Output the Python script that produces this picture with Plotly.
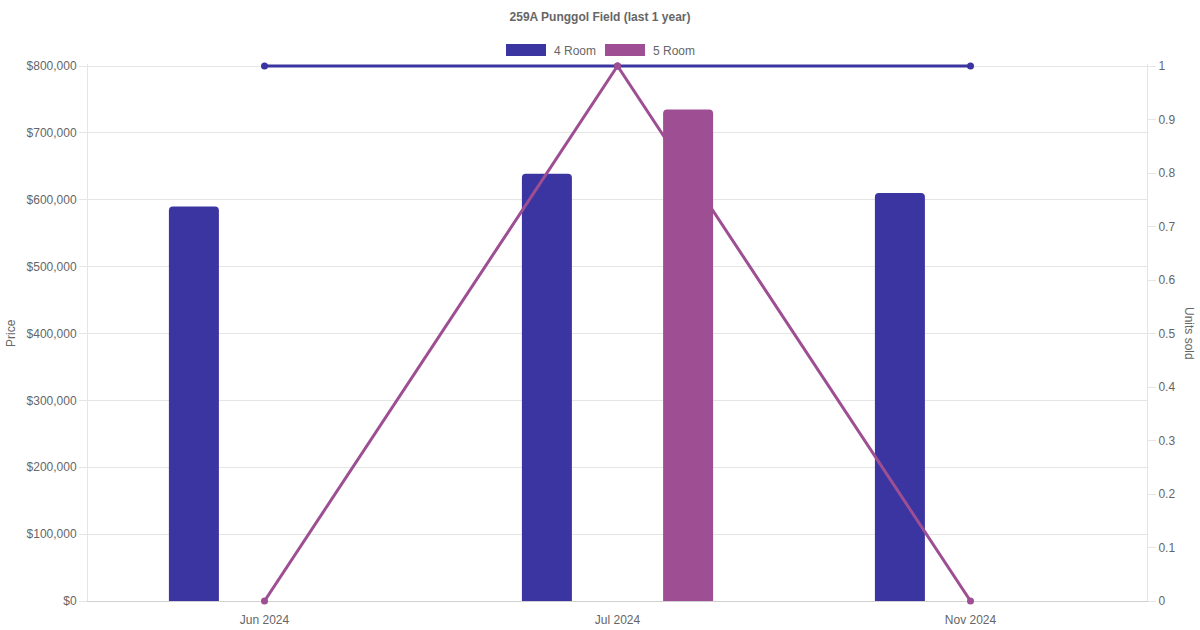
import plotly.graph_objects as go

months = ["Jun 2024", "Jul 2024", "Nov 2024"]
price_4room = [590000, 639000, 610000]
price_5room = [None, 735000, None]
units_4room = [1, 1, 1]
units_5room = [0, 1, 0]
series_names = ["4 Room", "5 Room"]
colors = ["#3a35a0", "#9e4f93"]
title_text = "259A Punggol Field (last 1 year)"

FONT = "'Liberation Sans', Arial, Helvetica, sans-serif"
GRAY = "#666666"
GRID = "#e5e5e5"

# layout geometry (pixels)
W, H = 1200, 630
EXTRA = 2  # small headroom so lines at the top value aren't clipped
L, R, T, B = 88, 53, 66 - EXTRA, 29
PW, PH = W - L - R, H - T - B
PH0 = PH - EXTRA
YMAX1 = 800000 * PH / PH0
YMAX2 = 1.0 * PH / PH0

def px_x(px):
    return (px - L) / PW

def px_y(py):
    return (H - B - py) / PH

xs = list(range(len(months)))
bar_w = 50 / (PW / len(months))
offsets = [-0.2 - bar_w / 2, 0.2 - bar_w / 2]

fig = go.Figure()
for name, vals, col, off in zip(series_names, [price_4room, price_5room], colors, offsets):
    fig.add_trace(go.Bar(
        x=xs, y=vals, name=name, width=bar_w, offset=off,
        marker=dict(color=col, line=dict(width=0)),
        yaxis="y", showlegend=False, hoverinfo="skip",
    ))
for name, vals, col in zip(series_names, [units_4room, units_5room], colors):
    fig.add_trace(go.Scatter(
        x=xs, y=vals, name=name, mode="lines+markers",
        line=dict(color=col, width=3), marker=dict(color=col, size=7),
        yaxis="y2", showlegend=False, cliponaxis=False,
    ))

# manual legend (chart.js style)
shapes = []
annotations = []
legend_items = [(506, 546, 552), (605, 645, 651)]
for (x0, x1, tx), name, col in zip(legend_items, series_names, colors):
    shapes.append(dict(type="rect", xref="paper", yref="paper",
                       x0=px_x(x0), x1=px_x(x1), y0=px_y(56), y1=px_y(44),
                       fillcolor=col, line=dict(width=0)))
    annotations.append(dict(text=name, xref="paper", yref="paper",
                            x=px_x(tx), y=px_y(50.5), xanchor="left", yanchor="middle",
                            showarrow=False, font=dict(family=FONT, size=12, color=GRAY)))

annotations.append(dict(text="Price", xref="paper", yref="paper", x=px_x(11), y=px_y(333),
                        textangle=-90, showarrow=False, xanchor="center", yanchor="middle",
                        font=dict(family=FONT, size=12, color=GRAY)))
annotations.append(dict(text="Units sold", xref="paper", yref="paper", x=px_x(1189), y=px_y(333),
                        textangle=90, showarrow=False, xanchor="center", yanchor="middle",
                        font=dict(family=FONT, size=12, color=GRAY)))

fig.update_layout(
    width=W, height=H,
    margin=dict(l=L, r=R, t=T, b=B, pad=0, autoexpand=False),
    paper_bgcolor="white", plot_bgcolor="white",
    barmode="overlay", barcornerradius=4,
    font=dict(family=FONT, size=12, color=GRAY),
    title=dict(text="<b>" + title_text + "</b>", x=0.5, xanchor="center",
               y=1 - 17 / H, yanchor="middle", font=dict(family=FONT, size=12, color=GRAY)),
    xaxis=dict(range=[-0.5, len(months) - 0.5], tickmode="array", tickvals=xs, ticktext=months,
               showgrid=False, zeroline=False, showline=True, linecolor="#d0d0d0", linewidth=1,
               ticks="outside", ticklen=8, tickcolor="rgba(0,0,0,0)", automargin=False,
               layer="below traces",
               tickfont=dict(size=12, color=GRAY), fixedrange=True),
    yaxis=dict(range=[0, YMAX1], tickmode="linear", tick0=0, dtick=100000,
               tickprefix="$", tickformat=",d", automargin=False, layer="below traces",
               showgrid=True, gridcolor=GRID, gridwidth=1, zeroline=False,
               showline=True, linecolor=GRID, linewidth=1,
               ticks="outside", ticklen=8, tickcolor=GRID, tickfont=dict(size=12, color=GRAY)),
    yaxis2=dict(range=[0, YMAX2], tickmode="linear", tick0=0, dtick=0.1,
                overlaying="y", side="right", showgrid=False, automargin=False,
                layer="below traces",
                zeroline=False, showline=True, linecolor=GRID, linewidth=1,
                ticks="outside", ticklen=8, tickcolor=GRID, tickformat="~g",
                tickfont=dict(size=12, color=GRAY)),
    shapes=shapes, annotations=annotations,
    showlegend=False,
)

fig.write_html("out.html", config={"displayModeBar": False},
               post_script="document.body.style.margin='0';document.body.style.overflow='hidden';")
